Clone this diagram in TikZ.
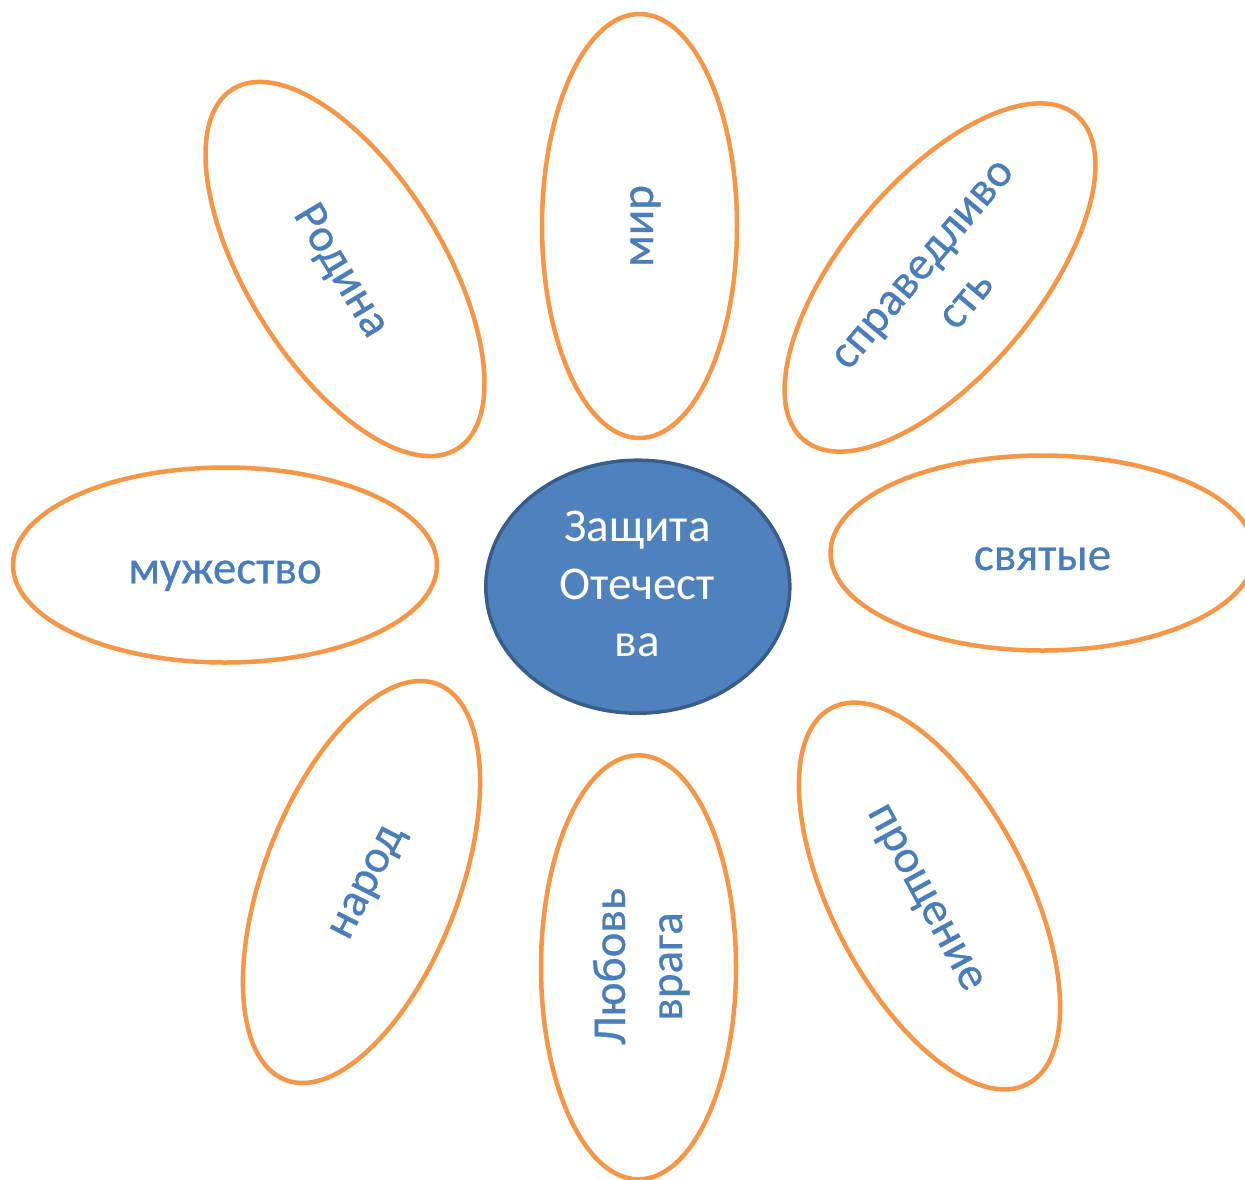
\documentclass[tikz,border=0pt]{standalone}
\usepackage{fontspec}
\setmainfont{Carlito}
\newfontfamily\petalfont{Carlito}[FakeBold=0.6]
\usetikzlibrary{shapes.geometric}
\definecolor{petalorange}{HTML}{F79646}
\definecolor{txtblue}{HTML}{4A7EBB}
\definecolor{corefill}{HTML}{4F81BD}
\definecolor{coreline}{HTML}{385D8A}
\begin{document}
\begin{tikzpicture}[x=1pt,y=-1pt,
  petal/.style={draw=petalorange, line width=4.5pt, ellipse, inner sep=0pt,
    minimum width=424pt, minimum height=195pt, fill=white},
  word/.style={text=txtblue, font=\petalfont\fontsize{47}{57}\selectfont, inner sep=0pt, anchor=base},
  coreword/.style={text=white, font=\fontsize{47}{57}\selectfont, inner sep=0pt, anchor=base},
  core/.style={draw=coreline, fill=corefill, line width=3.5pt, ellipse, inner sep=0pt,
    minimum width=304pt, minimum height=253pt}]
\useasboundingbox (0,0) rectangle (1245,1179);
\fill[white] (0,0) rectangle (1245,1179);
% petals
\node[petal, rotate=90]    (mir)     at (639.5,226) {};
\node[petal, rotate=-58]   (rodina)  at (345,269) {};
\node[petal, rotate=50]    (sprav)   at (940,277.5) {};
\node[petal]               (svyat)   at (1042.5,553) {};
\node[petal, rotate=-62.5] (proshch) at (929.5,896) {};
\node[petal, rotate=90]    (lyub)    at (638.5,967.3) {};
\node[petal, rotate=69]    (narod)   at (361.5,882) {};
\node[petal]               (muzh)    at (225,565) {};
% centre
\node[core] (centre) at (637.8,586.7) {};
% petal texts
\node[word, rotate=90]    (tmir)    at (653,226) {мир};
\node[word, rotate=-59]   (trodina) at (330.6,277.2) {Родина};
\node[word, rotate=50]    (tsprava) at (932,272) {справедливо};
\node[word, rotate=50]    (tspravb) at (975.7,308.6) {сть};
\node[word]               (tsvyat)  at (1042.5,570) {святые};
\node[word, rotate=-61.5] (tprosh)  at (916.3,902.7) {прощение};
\node[word, rotate=90]    (tlyuba)  at (625,966.5) {Любовь};
\node[word, rotate=90]    (tlyubb)  at (682,966.5) {врага};
\node[word, rotate=63]    (tnarod)  at (376.3,887) {народ};
\node[word]               (tmuzh)   at (225,583.3) {мужество};
% centre text
\node[coreword] (tca) at (637.5,541.7) {Защита};
\node[coreword] (tcb) at (637,599.5) {Отечест};
\node[coreword] (tcc) at (637,656.7) {ва};
\end{tikzpicture}
\end{document}
